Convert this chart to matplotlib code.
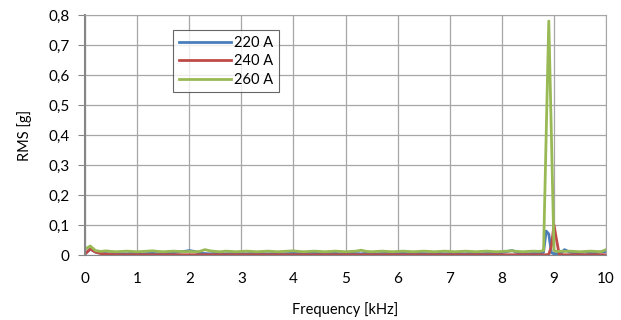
import matplotlib.pyplot as plt
from matplotlib.ticker import FuncFormatter

# frequency points [kHz]
freq = [round(0.1 * i, 2) for i in range(0, 88)] + \
       [8.75, 8.8, 8.85, 8.9, 8.95, 9.0, 9.05, 9.1, 9.15] + \
       [round(9.2 + 0.1 * i, 2) for i in range(0, 9)]

rms_220 = [0.004, 0.02, 0.01, 0.006, 0.005, 0.004, 0.006, 0.005, 0.004, 0.006,
           0.005, 0.004, 0.005, 0.006, 0.004, 0.005, 0.006, 0.008, 0.01, 0.012,
           0.015, 0.012, 0.006, 0.005, 0.004, 0.006, 0.005, 0.004, 0.005, 0.006,
           0.005, 0.004, 0.006, 0.008, 0.005, 0.004, 0.005, 0.006, 0.004, 0.005,
           0.006, 0.005, 0.004, 0.006, 0.007, 0.005, 0.004, 0.005, 0.006, 0.004,
           0.005, 0.006, 0.005, 0.004, 0.006, 0.005, 0.004, 0.005, 0.006, 0.004,
           0.005, 0.006, 0.005, 0.004, 0.006, 0.005, 0.004, 0.005, 0.006, 0.004,
           0.005, 0.006, 0.005, 0.004, 0.006, 0.005, 0.004, 0.005, 0.006, 0.004,
           0.008, 0.012, 0.015, 0.008, 0.005, 0.004, 0.005, 0.006,
           0.006, 0.01, 0.08, 0.07, 0.008, 0.004, 0.005, 0.006, 0.008,
           0.018, 0.01, 0.006, 0.008, 0.01, 0.007, 0.008, 0.01, 0.012]

rms_240 = [0.004, 0.02, 0.01, 0.005, 0.003, 0.002, 0.001, 0.001, 0.001, 0.001,
           0.001, 0.001, 0.001, 0.001, 0.001, 0.001, 0.001, 0.001, 0.001, 0.001,
           0.001, 0.001, 0.001, 0.001, 0.001, 0.001, 0.001, 0.001, 0.001, 0.001,
           0.001, 0.001, 0.001, 0.001, 0.001, 0.001, 0.001, 0.001, 0.001, 0.001,
           0.001, 0.001, 0.001, 0.001, 0.001, 0.001, 0.001, 0.001, 0.001, 0.001,
           0.001, 0.001, 0.001, 0.001, 0.001, 0.001, 0.001, 0.001, 0.001, 0.001,
           0.001, 0.001, 0.001, 0.001, 0.001, 0.001, 0.001, 0.001, 0.001, 0.001,
           0.001, 0.001, 0.001, 0.001, 0.001, 0.001, 0.001, 0.001, 0.001, 0.001,
           0.001, 0.001, 0.001, 0.001, 0.001, 0.001, 0.001, 0.001,
           0.001, 0.001, 0.001, 0.002, 0.03, 0.1, 0.05, 0.002, 0.001,
           0.001, 0.001, 0.001, 0.001, 0.001, 0.001, 0.001, 0.001, 0.001]

rms_260 = [0.02, 0.03, 0.015, 0.012, 0.014, 0.012, 0.011, 0.012, 0.013, 0.012,
           0.011, 0.012, 0.013, 0.014, 0.012, 0.011, 0.012, 0.013, 0.012, 0.011,
           0.012, 0.011, 0.012, 0.018, 0.014, 0.012, 0.011, 0.013, 0.012, 0.011,
           0.012, 0.013, 0.012, 0.011, 0.012, 0.013, 0.012, 0.011, 0.012, 0.013,
           0.014, 0.012, 0.011, 0.012, 0.013, 0.012, 0.011, 0.012, 0.013, 0.012,
           0.011, 0.012, 0.013, 0.016, 0.012, 0.011, 0.012, 0.013, 0.012, 0.011,
           0.012, 0.013, 0.012, 0.011, 0.012, 0.013, 0.012, 0.011, 0.012, 0.013,
           0.012, 0.011, 0.012, 0.013, 0.012, 0.011, 0.012, 0.013, 0.012, 0.011,
           0.012, 0.013, 0.014, 0.012, 0.011, 0.012, 0.013, 0.012,
           0.013, 0.015, 0.4, 0.78, 0.4, 0.015, 0.012, 0.012, 0.013,
           0.012, 0.013, 0.012, 0.011, 0.012, 0.013, 0.012, 0.011, 0.018]

plt.rcParams['font.family'] = ['Lato', 'DejaVu Sans']

fig = plt.figure(figsize=(6.21, 3.2), dpi=100)
ax = fig.add_axes([0.137, 0.203, 0.839, 0.75])

ax.plot(freq, rms_220, color='#4a7ebb', lw=2, label='220 A')
ax.plot(freq, rms_240, color='#be4b48', lw=2, label='240 A')
ax.plot(freq, rms_260, color='#98b954', lw=2, label='260 A')

ax.set_xlim(0, 10)
ax.set_ylim(0, 0.8)
ax.set_xticks(range(0, 11))
ax.set_yticks([i / 10 for i in range(0, 9)])
ax.yaxis.set_major_formatter(FuncFormatter(
    lambda v, p: '0' if v == 0 else ('%.1f' % v).replace('.', ',')))
ax.grid(True, color='#a6a6a6', lw=0.9)
ax.set_axisbelow(True)
for s in ax.spines.values():
    s.set_color('#a6a6a6')
ax.spines['left'].set_color('#868686')
ax.spines['left'].set_linewidth(1.5)
ax.spines['bottom'].set_color('#868686')
ax.tick_params(axis='y', labelsize=11, length=5, color='#868686', pad=6)
ax.tick_params(axis='x', labelsize=11, length=0, pad=12)

ax.set_xlabel('Frequency [kHz]', fontsize=10.5, labelpad=12)
ax.set_ylabel('RMS [g]', fontsize=10.5, labelpad=12)

leg = ax.legend(loc='upper left', bbox_to_anchor=(0.169, 0.9375), fontsize=10.5,
                frameon=True, fancybox=False, borderaxespad=0, handlelength=3.6,
                labelspacing=0.3, borderpad=0.4, handletextpad=0.2)
leg.get_frame().set_edgecolor('#404040')
leg.get_frame().set_linewidth(0.8)

fig.savefig('out.png', dpi=100)
